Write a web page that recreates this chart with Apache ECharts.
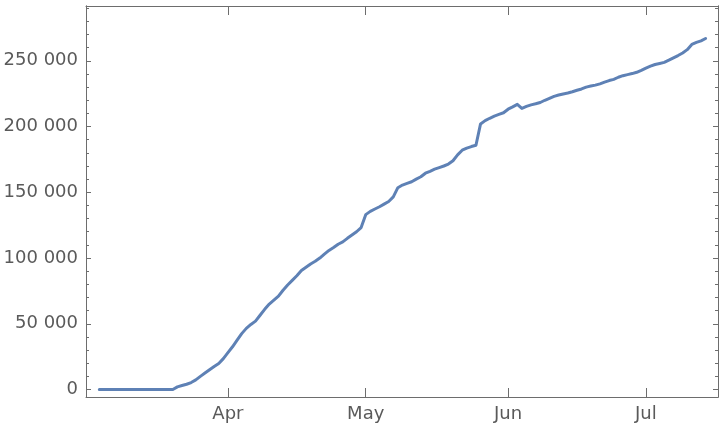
<!DOCTYPE html>
<html>
<head>
<meta charset="utf-8">
<script src="https://cdn.jsdelivr.net/npm/echarts@6/dist/echarts.min.js"></script>
<style>html,body{margin:0;padding:0;background:#fff}#c{width:720px;height:428px}</style>
</head>
<body>
<div id="c"></div>
<script>
// ---- data ----
var startDate = [2020, 2, 4]; // Mar 4, 2020 (daily values follow)
var values = [
  0,0,0,0,0,0,0,0,0,0,0,0,0,0,0,0,0,
  2000,3000,4000,5300,7300,10000,12500,15000,17500,19800,
  23500,28000,32500,37500,42500,46500,49500,52000,56500,61000,
  65000,68000,71000,75500,79500,83000,86500,90500,93000,95500,
  97500,100000,103000,105800,108000,110500,112300,115000,117500,120000,
  123200,133000,135500,137300,139000,141000,143000,146500,153500,155500,
  156800,158000,160000,161800,164500,166000,167600,168800,170000,171500,
  174000,178500,182000,183600,184800,185800,202000,204500,206300,208000,
  209300,210500,213200,215000,216900,213800,215300,216500,217300,218300,
  220000,221500,223000,224000,224800,225500,226500,227600,228600,230000,
  230800,231500,232500,233800,235000,235900,237500,238700,239500,240300,
  241300,242800,244500,246000,247200,248000,248800,250500,252300,254000,
  256000,258500,262500,264000,265200,267000
];
var monthTicks = [[2020,3,1],[2020,4,1],[2020,5,1],[2020,6,1]];
var monthLabels = ['Apr','May','Jun','Jul'];
var yMajorTicks = [0,50000,100000,150000,200000,250000];
var yMinorTicks = [10000,20000,30000,40000,60000,70000,80000,90000,110000,120000,130000,140000,160000,170000,180000,190000,210000,220000,230000,240000,260000,270000,280000,290000];

// ---- build ----
var DAY = 86400000;
var t0 = Date.UTC(startDate[0], startDate[1], startDate[2]);
var seriesData = values.map(function (v, i) { return [t0 + i * DAY, v]; });
var mar1 = Date.UTC(2020, 2, 1);
var xMin = mar1 + 0.1 * DAY, xMax = mar1 + 137.7 * DAY;
var yMin = -5700, yMax = 291700;
var monthVals = monthTicks.map(function (d) { return Date.UTC(d[0], d[1], d[2]); });
var frameColor = '#6d6d6d';
var labelColor = '#5a5a5a';
var font = 'DejaVu Sans';

function fmtY(v) {
  var s = String(Math.round(v));
  if (s.length > 3) s = s.slice(0, s.length - 3) + ' ' + s.slice(s.length - 3);
  return s;
}
function fmtX(v) {
  var i = monthVals.indexOf(v);
  return i >= 0 ? monthLabels[i] : '';
}
function xAxisDef(pos, showLabel) {
  return {
    type: 'value', position: pos, min: xMin, max: xMax, scale: true,
    axisLine: { show: true, onZero: false, lineStyle: { color: frameColor, width: 1 } },
    axisTick: { show: true, inside: true, length: 9, customValues: monthVals, lineStyle: { color: frameColor } },
    axisLabel: { show: showLabel, customValues: monthVals, color: labelColor, fontFamily: font, fontSize: 18, margin: 8, formatter: fmtX },
    splitLine: { show: false }
  };
}
function yAxisDef(pos, ticks, len, showLabel) {
  return {
    type: 'value', position: pos, min: yMin, max: yMax,
    axisLine: { show: true, onZero: false, lineStyle: { color: frameColor, width: 1 } },
    axisTick: { show: true, inside: true, length: len, customValues: ticks, lineStyle: { color: frameColor } },
    axisLabel: { show: showLabel, customValues: ticks, color: labelColor, fontFamily: font, fontSize: 18, margin: 8, formatter: fmtY },
    splitLine: { show: false }
  };
}

var chart = echarts.init(document.getElementById('c'), null, { renderer: 'canvas' });
chart.setOption({
  animation: false,
  backgroundColor: '#ffffff',
  grid: { left: 86, right: 2, top: 6, bottom: 31, containLabel: false },
  xAxis: [xAxisDef('bottom', true), xAxisDef('top', false)],
  yAxis: [
    yAxisDef('left', yMajorTicks, 5, true),
    yAxisDef('left', yMinorTicks, 3, false),
    yAxisDef('right', yMajorTicks, 5, false),
    yAxisDef('right', yMinorTicks, 3, false)
  ],
  series: [{
    type: 'line', xAxisIndex: 0, yAxisIndex: 0, data: seriesData,
    showSymbol: false, symbol: 'none',
    lineStyle: { color: '#5e81b5', width: 3, join: 'round', cap: 'round' }
  }]
});
</script>
</body>
</html>
